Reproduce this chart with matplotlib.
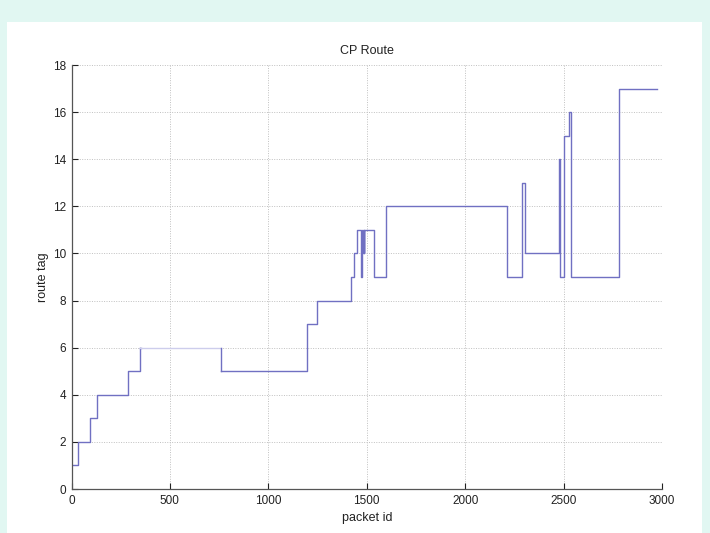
import matplotlib
matplotlib.use('Agg')
import matplotlib.pyplot as plt
from matplotlib.patches import Rectangle

# route tag seen by each packet (step changes only)
packet_id = [0, 35, 94, 131, 288, 348, 762, 1198, 1248, 1421, 1434, 1448,
             1472, 1475, 1482, 1484, 1486, 1488, 1537, 1600, 2212, 2290,
             2306, 2475, 2483, 2501, 2525, 2539, 2781, 2977]
route_tag = [1, 2, 3, 4, 5, 6, 5, 7, 8, 9, 10, 11,
             9, 11, 10, 11, 10, 11, 9, 12, 9, 13,
             10, 14, 9, 15, 16, 9, 17, 17]

x_ticks = [0, 500, 1000, 1500, 2000, 2500, 3000]
y_ticks = [0, 2, 4, 6, 8, 10, 12, 14, 16, 18]

plt.rcParams['font.family'] = ['Liberation Sans', 'DejaVu Sans']

fig = plt.figure(figsize=(7.1, 5.33), dpi=100, facecolor='#e1f7f2')
# white page area inside the tinted border
fig.patches.append(Rectangle((7 / 710, 0), 695 / 710, 511 / 533,
                             transform=fig.transFigure, facecolor='white',
                             edgecolor='none', zorder=-10))

ax = fig.add_axes([71.5 / 710, 44 / 533, 590.5 / 710, 424 / 533])
ax.set_zorder(1)
ax.set_facecolor('white')

line_col = '#7070c2'
# the long flat stretch at 6 is drawn faint, everything else solid
k = route_tag.index(6)
ax.step(packet_id[:k + 1], route_tag[:k + 1], where='post', color=line_col, lw=1.0)
ax.plot([packet_id[k], packet_id[k] + 5], [route_tag[k]] * 2, color=line_col, lw=1.0)
ax.plot(packet_id[k:k + 2], [route_tag[k]] * 2, color='#cdcdec', lw=1.0)
ax.step(packet_id[k + 1:], route_tag[k + 1:], where='post', color=line_col, lw=1.0)
ax.plot([packet_id[k + 1]] * 2, [route_tag[k], route_tag[k + 1]], color=line_col, lw=1.0)

ax.set_xlim(0, 3000)
ax.set_ylim(0, 18)
ax.set_xticks(x_ticks)
ax.set_yticks(y_ticks)
ax.grid(True, linestyle=(0, (1, 1.5)), color='#c0c0c0', linewidth=0.7)
ax.set_axisbelow(True)
ax.tick_params(direction='in', length=4, width=0.8, labelsize=8.5,
               colors='#222222', pad=4)
for side in ['top', 'right']:
    ax.spines[side].set_visible(False)
for side in ['left', 'bottom']:
    ax.spines[side].set_color('#555555')
    ax.spines[side].set_linewidth(0.9)

ax.set_title('CP Route', fontsize=9, pad=8, color='#222222')
ax.set_xlabel('packet id', fontsize=9, labelpad=4, color='#222222')
ax.set_ylabel('route tag', fontsize=9, labelpad=3, color='#222222')

fig.savefig('out.png', dpi=100, facecolor=fig.get_facecolor())
